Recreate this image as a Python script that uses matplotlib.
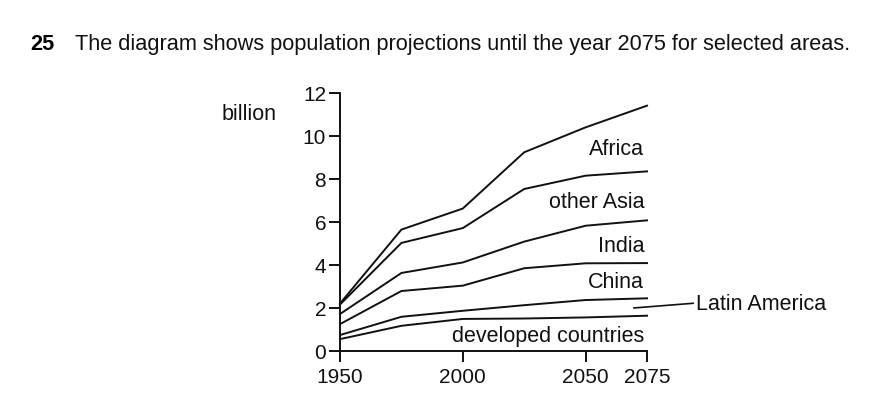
import matplotlib.pyplot as plt

plt.rcParams['font.family'] = ['Liberation Sans', 'DejaVu Sans']

years = [1950, 1975, 2000, 2025, 2050, 2075]
africa = [2.2, 5.64, 6.62, 9.24, 10.4, 11.41]
other_asia = [2.15, 5.02, 5.71, 7.53, 8.15, 8.35]
india = [1.71, 3.62, 4.11, 5.08, 5.82, 6.07]
china = [1.24, 2.78, 3.03, 3.84, 4.07, 4.08]
latin_america = [0.73, 1.58, 1.86, 2.12, 2.36, 2.44]
developed = [0.54, 1.16, 1.48, 1.5, 1.55, 1.63]

labels = ['Africa', 'other Asia', 'India', 'China', 'developed countries']
label_y = [9.42, 6.95, 4.9, 3.2, 0.7]

fig = plt.figure(figsize=(8.88, 4.06), dpi=100)
ax = fig.add_axes([0.3829, 0.1337, 0.3457, 0.6348])

for s in [africa, other_asia, india, china, latin_america, developed]:
    ax.plot(years, s, color='#111111', lw=1.4, clip_on=False)

for lab, y in zip(labels, label_y):
    ax.text(2073.8, y, lab, ha='right', va='center', fontsize=15.5, color='#111111')

# Latin America label sits outside with a leader line
ax.annotate('Latin America', xy=(2069.6, 1.99), xytext=(2095, 2.22),
            ha='left', va='center', fontsize=15.5, color='#111111',
            annotation_clip=False,
            arrowprops=dict(arrowstyle='-', color='#111111', lw=1.2,
                            shrinkA=0, shrinkB=0, relpos=(0, 0.5)))

ax.set_xlim(1950, 2075)
ax.set_ylim(0, 12)
ax.set_xticks([1950, 2000, 2050, 2075])
ax.set_yticks(range(0, 13, 2))
ax.spines['top'].set_visible(False)
ax.spines['right'].set_visible(False)
ax.spines['left'].set_linewidth(1.4)
ax.spines['bottom'].set_linewidth(1.4)
ax.spines['left'].set_color('#111111')
ax.spines['bottom'].set_color('#111111')
ax.tick_params(length=8, width=1.4, labelsize=15, pad=2, color='#111111',
               labelcolor='#111111')
ax.tick_params(axis='x', pad=4)

fig.text(0.0338, 0.890, '25', fontsize=15.7, fontweight='bold', va='center')
fig.text(0.0845, 0.890, 'The diagram shows population projections until the year 2075 for selected areas.',
         fontsize=15.7, va='center', color='#111111')
fig.text(0.2500, 0.717, 'billion', fontsize=15.5, ha='left', va='center', color='#111111')

fig.savefig('out.png', dpi=100)
